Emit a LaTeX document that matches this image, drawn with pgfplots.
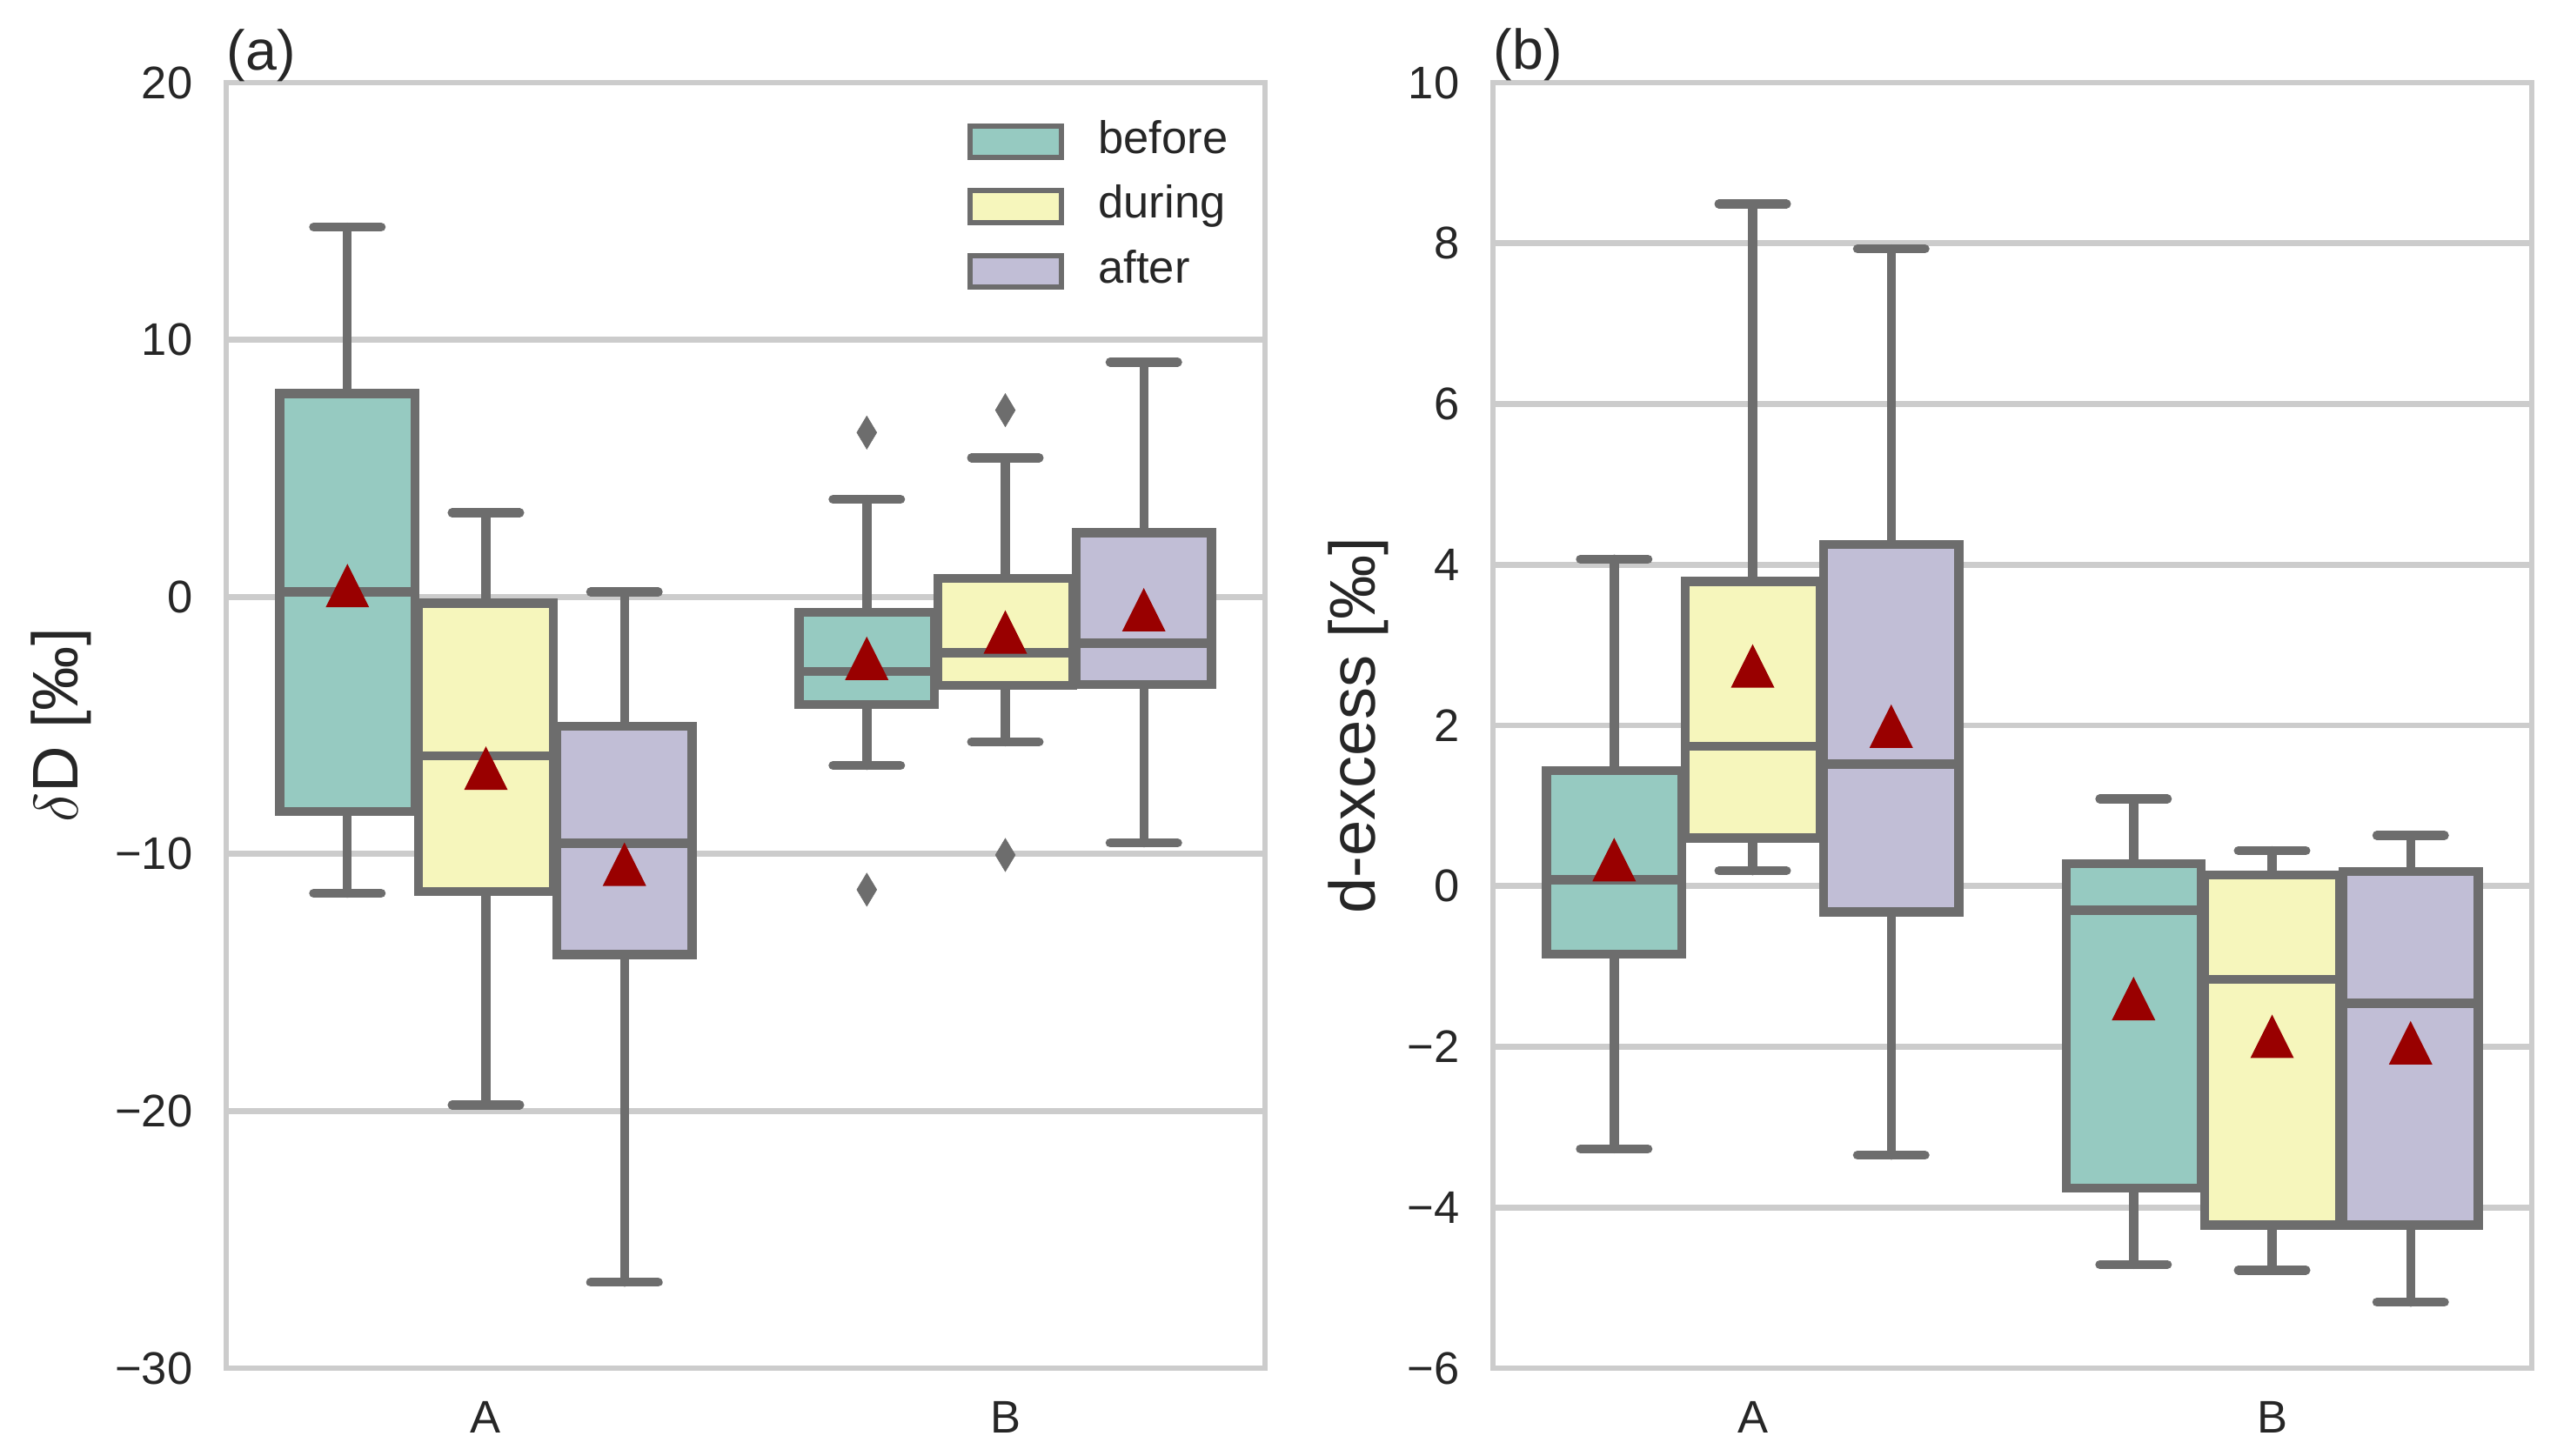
\documentclass[border=0pt]{standalone}
\usepackage{fontspec}
\setmainfont{Liberation Sans}
\usepackage{pgfplots}
\pgfplotsset{compat=1.18}
\usepgfplotslibrary{statistics}

\definecolor{cbefore}{HTML}{96CAC1}
\definecolor{cduring}{HTML}{F6F6BC}
\definecolor{cafter}{HTML}{C1BED6}
\definecolor{edgegray}{HTML}{6D6D6D}
\definecolor{gridcol}{HTML}{CCCCCC}
\definecolor{textcol}{HTML}{262626}
\definecolor{meanred}{HTML}{990000}

% matplotlib-like triangle, centred on its bounding box
\pgfdeclareplotmark{mpltri}{%
  \pgfpathmoveto{\pgfqpoint{0pt}{\pgfplotmarksize}}%
  \pgfpathlineto{\pgfqpoint{-\pgfplotmarksize}{-\pgfplotmarksize}}%
  \pgfpathlineto{\pgfqpoint{\pgfplotmarksize}{-\pgfplotmarksize}}%
  \pgfpathclose\pgfusepathqfill}

\pgfplotsset{
  panel/.style={
    scale only axis, width=286.56pt, height=354.72pt,
    anchor=south west, clip=false,
    xmin=-0.5, xmax=1.5, xtick={0,1}, xticklabels={A,B},
    tick style={draw=none},
    ymajorgrids, grid style={draw=gridcol, line width=1.6pt},
    axis line style={draw=gridcol, line width=1.4pt},
    tick label style={font=\fontsize{12.6}{15}\selectfont, text=textcol},
    yticklabel style={anchor=east, inner sep=0pt, xshift=-9.1pt},
    xticklabel style={anchor=north, inner sep=0pt, yshift=-8.9pt},
  },
  bx/.style={forget plot, draw=edgegray, line width=2.5pt, mark=none,
    boxplot/draw direction=y,
    boxplot/box extend=0.26, boxplot/whisker extend=0.13,
    boxplot/every box/.style={draw=edgegray, fill=#1, line width=2.5pt},
    boxplot/every whisker/.style={draw=edgegray, line width=2.5pt, line cap=round},
    boxplot/every median/.style={draw=edgegray, line width=2.5pt}},
  means/.style={forget plot, only marks, mark=mpltri, mark size=6pt,
    mark options={draw=none, fill=meanred}},
  fliers/.style={forget plot, only marks, mark=diamond*, mark size=4.6pt,
    mark options={draw=edgegray, line width=0.1pt, fill=edgegray, xscale=0.8}},
  legpatch/.style={legend image code/.code={%
    \draw[##1, draw=edgegray, line width=1.4pt] (0.7pt,-4.35pt) rectangle (25.9pt,4.35pt);}},
}

\begin{document}
\begin{tikzpicture}
\path[use as bounding box] (0,0) rectangle (705.36pt,401.52pt);

% (a) delta D
\begin{axis}[panel, at={(62.4pt,24pt)},
  ymin=-30, ymax=20, ytick={-30,-20,-10,0,10,20},
  yticklabels={−30,−20,−10,0,10,20},
  ylabel={$\delta$D [‰]},
  every axis y label/.style={at={(axis description cs:-0.1424,0.5)}, rotate=90,
    anchor=base, font=\fontsize{17.8}{21}\selectfont, text=textcol},
  legend style={at={(axis description cs:0.7126,0.971)}, anchor=north west,
    draw=none, fill=none, inner sep=0pt, row sep=6.3pt,
    font=\fontsize{12.6}{15}\selectfont, text=textcol,
    nodes={inner sep=0pt, text height=9pt, text depth=2.6pt}},
  legend cell align=left,
]
\addlegendimage{legpatch, fill=cbefore}
\addlegendentry{\hspace{9.6pt}before}
\addlegendimage{legpatch, fill=cduring}
\addlegendentry{\hspace{9.6pt}during}
\addlegendimage{legpatch, fill=cafter}
\addlegendentry{\hspace{9.6pt}after}

\addplot[bx=cbefore, boxplot prepared={draw position=-0.2667,
  lower whisker=-11.53, lower quartile=-8.35, median=0.19,
  upper quartile=7.90, upper whisker=14.38}] coordinates {};
\addplot[bx=cduring, boxplot prepared={draw position=0,
  lower whisker=-19.76, lower quartile=-11.46, median=-6.18,
  upper quartile=-0.24, upper whisker=3.27}] coordinates {};
\addplot[bx=cafter, boxplot prepared={draw position=0.2667,
  lower whisker=-26.66, lower quartile=-13.91, median=-9.58,
  upper quartile=-5.04, upper whisker=0.19}] coordinates {};
\addplot[bx=cbefore, boxplot prepared={draw position=0.7333,
  lower whisker=-6.56, lower quartile=-4.18, median=-2.91,
  upper quartile=-0.60, upper whisker=3.79}] coordinates {};
\addplot[bx=cduring, boxplot prepared={draw position=1,
  lower whisker=-5.64, lower quartile=-3.44, median=-2.18,
  upper quartile=0.71, upper whisker=5.41}] coordinates {};
\addplot[bx=cafter, boxplot prepared={draw position=1.2667,
  lower whisker=-9.57, lower quartile=-3.41, median=-1.80,
  upper quartile=2.49, upper whisker=9.13}] coordinates {};

\addplot[fliers] coordinates {(0.7333,6.39) (0.7333,-11.39) (1,7.26) (1,-10.04)};
\addplot[means] coordinates {(-0.2667,0.44) (0,-6.66) (0.2667,-10.40)
  (0.7333,-2.39) (1,-1.37) (1.2667,-0.50)};

\node[anchor=base west, inner sep=0pt, yshift=3.6pt, text=textcol,
  font=\fontsize{15.5}{18}\selectfont] at (rel axis cs:0,1) {(a)};
\end{axis}

% (b) d-excess
\begin{axis}[panel, at={(411.84pt,24pt)},
  ymin=-6, ymax=10, ytick={-6,-4,-2,0,2,4,6,8,10},
  yticklabels={−6,−4,−2,0,2,4,6,8,10},
  ylabel={d-excess [‰]},
  every axis y label/.style={at={(axis description cs:-0.1139,0.5)}, rotate=90,
    anchor=base, font=\fontsize{17.8}{21}\selectfont, text=textcol},
]
\addplot[bx=cbefore, boxplot prepared={draw position=-0.2667,
  lower whisker=-3.27, lower quartile=-0.85, median=0.08,
  upper quartile=1.44, upper whisker=4.07}] coordinates {};
\addplot[bx=cduring, boxplot prepared={draw position=0,
  lower whisker=0.19, lower quartile=0.60, median=1.74,
  upper quartile=3.79, upper whisker=8.49}] coordinates {};
\addplot[bx=cafter, boxplot prepared={draw position=0.2667,
  lower whisker=-3.35, lower quartile=-0.32, median=1.52,
  upper quartile=4.25, upper whisker=7.93}] coordinates {};
\addplot[bx=cbefore, boxplot prepared={draw position=0.7333,
  lower whisker=-4.71, lower quartile=-3.76, median=-0.30,
  upper quartile=0.28, upper whisker=1.085}] coordinates {};
\addplot[bx=cduring, boxplot prepared={draw position=1,
  lower whisker=-4.78, lower quartile=-4.22, median=-1.16,
  upper quartile=0.14, upper whisker=0.44}] coordinates {};
\addplot[bx=cafter, boxplot prepared={draw position=1.2667,
  lower whisker=-5.18, lower quartile=-4.22, median=-1.46,
  upper quartile=0.18, upper whisker=0.63}] coordinates {};

\addplot[means] coordinates {(-0.2667,0.33) (0,2.74) (0.2667,1.99)
  (0.7333,-1.40) (1,-1.87) (1.2667,-1.95)};

\node[anchor=base west, inner sep=0pt, yshift=3.6pt, text=textcol,
  font=\fontsize{15.5}{18}\selectfont] at (rel axis cs:0,1) {(b)};
\end{axis}
\end{tikzpicture}
\end{document}
